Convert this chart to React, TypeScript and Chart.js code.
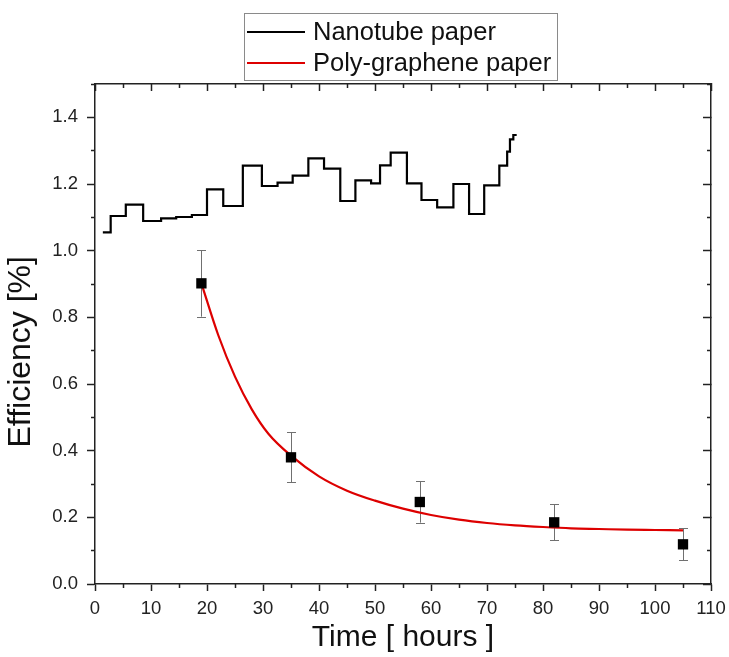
import React, { useEffect, useRef } from 'react';
import { Chart, registerables } from 'chart.js';

Chart.register(...registerables);

// ---- Data ----
const nanotubeTime = [1.4, 2.8, 5.5, 8.6, 11.8, 14.5, 17.3, 20.0, 22.9, 26.4, 29.8, 32.6, 35.3, 38.1, 40.9, 43.8, 46.5, 49.3, 50.9, 52.8, 55.7, 58.3, 61.1, 64.0, 66.8, 69.5, 72.2, 73.6, 74.1, 74.7, 75.3];
const nanotubeEff = [1.055, 1.104, 1.138, 1.089, 1.097, 1.101, 1.107, 1.184, 1.134, 1.255, 1.194, 1.204, 1.225, 1.277, 1.246, 1.149, 1.211, 1.202, 1.256, 1.294, 1.202, 1.152, 1.130, 1.200, 1.110, 1.196, 1.255, 1.297, 1.334, 1.347, 1.347];

const polyTime = [19, 35, 58, 82, 105];
const polyEff = [0.902, 0.380, 0.246, 0.185, 0.119];
const polyErr = [0.100, 0.075, 0.062, 0.054, 0.048];

const fitTime = [19, 22, 25, 28, 31, 35, 40, 45, 50, 55, 60, 65, 70, 75, 80, 85, 90, 95, 100, 105];
const fitEff = [0.902, 0.747, 0.622, 0.524, 0.450, 0.385, 0.323, 0.280, 0.250, 0.226, 0.207, 0.193, 0.183, 0.176, 0.171, 0.167, 0.165, 0.163, 0.162, 0.161];

const xTicks = [0, 10, 20, 30, 40, 50, 60, 70, 80, 90, 100, 110];
const xTickLabels = ['0', '10', '20', '30', '40', '50', '60', '70', '80', '90', '100', '110'];
const xMinorTicks = [5, 15, 25, 35, 45, 55, 65, 75, 85, 95, 105];
const yTicks = [0, 0.2, 0.4, 0.6, 0.8, 1.0, 1.2, 1.4];
const yTickLabels = ['0.0', '0.2', '0.4', '0.6', '0.8', '1.0', '1.2', '1.4'];
const yMinorTicks = [0.1, 0.3, 0.5, 0.7, 0.9, 1.1, 1.3, 1.5];

const seriesLabels = ['Nanotube paper', 'Poly-graphene paper'];
const xTitle = 'Time [ hours ]';
const yTitle = 'Efficiency [%]';

const FONT = "'Liberation Sans', Arial, sans-serif";
const AXIS_COLOR = '#222222';

const errorBarPlugin = {
  id: 'errorBars',
  beforeDatasetsDraw(chart: any) {
    const meta = chart.getDatasetMeta(0);
    const ys = chart.scales.y;
    const ctx = chart.ctx;
    ctx.save();
    ctx.strokeStyle = '#707070';
    ctx.lineWidth = 1;
    meta.data.forEach((pt: any, i: number) => {
      const top = ys.getPixelForValue(polyEff[i] + polyErr[i]);
      const bot = ys.getPixelForValue(polyEff[i] - polyErr[i]);
      const x = Math.round(pt.x) + 0.5;
      ctx.beginPath();
      ctx.moveTo(x, top);
      ctx.lineTo(x, bot);
      ctx.moveTo(x - 4.5, Math.round(top) + 0.5);
      ctx.lineTo(x + 4.5, Math.round(top) + 0.5);
      ctx.moveTo(x - 4.5, Math.round(bot) + 0.5);
      ctx.lineTo(x + 4.5, Math.round(bot) + 0.5);
      ctx.stroke();
    });
    ctx.restore();
  },
};

const boxLegendPlugin = {
  id: 'boxLegend',
  afterDraw(chart: any) {
    const ctx = chart.ctx;
    const items = seriesLabels
      .map((lab) => chart.data.datasets.find((d: any) => d.label === lab))
      .filter(Boolean);
    ctx.save();
    ctx.fillStyle = '#ffffff';
    ctx.fillRect(244, 13, 313, 67);
    ctx.strokeStyle = '#8a8a8a';
    ctx.lineWidth = 1;
    ctx.strokeRect(244.5, 13.5, 313, 67);
    items.forEach((d: any, i: number) => {
      const y = 32 + i * 31;
      ctx.strokeStyle = d.borderColor;
      ctx.lineWidth = 2;
      ctx.beginPath();
      ctx.moveTo(247, y);
      ctx.lineTo(305, y);
      ctx.stroke();
      ctx.fillStyle = '#111111';
      ctx.font = `25.5px ${FONT}`;
      ctx.textBaseline = 'middle';
      ctx.textAlign = 'left';
      ctx.fillText(d.label, 313, y + 0.5);
    });
    ctx.restore();
  },
};

const tickFont = { family: FONT, size: 18.5 };

function majorGrid(len: number) {
  return { drawOnChartArea: false, drawTicks: true, tickLength: len, tickWidth: 1.5, tickColor: AXIS_COLOR };
}
const border = { display: true, color: AXIS_COLOR, width: 1.5 };

function fixH(h: number) {
  return (s: any) => { s.height = h; s.paddingLeft = 0; s.paddingRight = 0; };
}
function fixW(w: number) {
  return (s: any) => { s.width = w; s.paddingTop = 0; s.paddingBottom = 0; };
}

export default function App() {
  const ref = useRef<HTMLCanvasElement | null>(null);

  useEffect(() => {
    document.body.style.margin = '0';
    const canvas = ref.current;
    if (!canvas) return;
    const chart = new Chart(canvas, {
      type: 'line',
      data: {
        datasets: [
          {
            label: 'Poly-graphene data',
            data: polyTime.map((t, i) => ({ x: t, y: polyEff[i] })),
            showLine: false,
            pointStyle: 'rect',
            pointRadius: 7.3,
            pointBackgroundColor: '#000000',
            pointBorderColor: '#000000',
            pointBorderWidth: 0,
          } as any,
          {
            label: seriesLabels[1],
            data: fitTime.map((t, i) => ({ x: t, y: fitEff[i] })),
            borderColor: '#dd0000',
            borderWidth: 2.2,
            pointRadius: 0,
            cubicInterpolationMode: 'monotone',
            fill: false,
          } as any,
          {
            label: seriesLabels[0],
            data: nanotubeTime.map((t, i) => ({ x: t, y: nanotubeEff[i] })),
            borderColor: '#000000',
            borderWidth: 2.2,
            pointRadius: 0,
            stepped: 'before',
            fill: false,
          } as any,
        ],
      },
      options: {
        animation: false,
        responsive: false,
        devicePixelRatio: 1,
        events: [],
        layout: { padding: 0 },
        plugins: { legend: { display: false }, tooltip: { enabled: false } },
        scales: {
          x: {
            type: 'linear', position: 'bottom', weight: 1, min: 0, max: 110,
            afterBuildTicks: (s: any) => { s.ticks = xTicks.map((v) => ({ value: v })); },
            afterFit: fixH(73),
            ticks: { font: tickFont, color: AXIS_COLOR, padding: 7, maxRotation: 0, autoSkip: false, callback: (_v: any, i: number) => xTickLabels[i] },
            grid: majorGrid(7), border,
            title: { display: true, text: xTitle, color: '#111', font: { family: FONT, size: 30 }, padding: { top: 0, bottom: 1 } },
          },
          xMinor: {
            type: 'linear', axis: 'x', position: 'bottom', weight: 0, min: 0, max: 110,
            afterBuildTicks: (s: any) => { s.ticks = xMinorTicks.map((v) => ({ value: v })); },
            afterFit: fixH(0),
            ticks: { display: false }, grid: majorGrid(4), border: { display: false },
          },
          xTop: {
            type: 'linear', axis: 'x', position: 'top', weight: 1, min: 0, max: 110,
            afterBuildTicks: (s: any) => { s.ticks = xTicks.map((v) => ({ value: v })); },
            afterFit: fixH(84),
            ticks: { display: false }, grid: majorGrid(-7), border,
          },
          xTopMinor: {
            type: 'linear', axis: 'x', position: 'top', weight: 0, min: 0, max: 110,
            afterBuildTicks: (s: any) => { s.ticks = xMinorTicks.map((v) => ({ value: v })); },
            afterFit: fixH(0),
            ticks: { display: false }, grid: majorGrid(-4), border: { display: false },
          },
          y: {
            type: 'linear', position: 'left', weight: 1, min: 0, max: 1.5,
            afterBuildTicks: (s: any) => { s.ticks = yTicks.map((v) => ({ value: v })); },
            afterFit: fixW(95),
            ticks: { font: tickFont, color: AXIS_COLOR, padding: 9, autoSkip: false, callback: (_v: any, i: number) => yTickLabels[i] },
            grid: majorGrid(8), border,
            title: { display: true, text: yTitle + '\u00A0\u00A0\u00A0\u00A0', color: '#111', font: { family: FONT, size: 32 }, padding: { top: 2, bottom: 0 } },
          },
          yMinor: {
            type: 'linear', axis: 'y', position: 'left', weight: 0, min: 0, max: 1.5,
            afterBuildTicks: (s: any) => { s.ticks = yMinorTicks.map((v) => ({ value: v })); },
            afterFit: fixW(0),
            ticks: { display: false }, grid: majorGrid(4), border: { display: false },
          },
          yRight: {
            type: 'linear', axis: 'y', position: 'right', weight: 1, min: 0, max: 1.5,
            afterBuildTicks: (s: any) => { s.ticks = yTicks.map((v) => ({ value: v })); },
            afterFit: fixW(18),
            ticks: { display: false }, grid: majorGrid(-8), border,
          },
          yRightMinor: {
            type: 'linear', axis: 'y', position: 'right', weight: 0, min: 0, max: 1.5,
            afterBuildTicks: (s: any) => { s.ticks = yMinorTicks.map((v) => ({ value: v })); },
            afterFit: fixW(0),
            ticks: { display: false }, grid: majorGrid(-4), border: { display: false },
          },
        },
      } as any,
      plugins: [errorBarPlugin, boxLegendPlugin],
    });
    return () => chart.destroy();
  }, []);

  return (
    <div style={{ width: 729, height: 657, background: '#ffffff' }}>
      <canvas ref={ref} width={729} height={657} style={{ display: 'block' }} />
    </div>
  );
}
